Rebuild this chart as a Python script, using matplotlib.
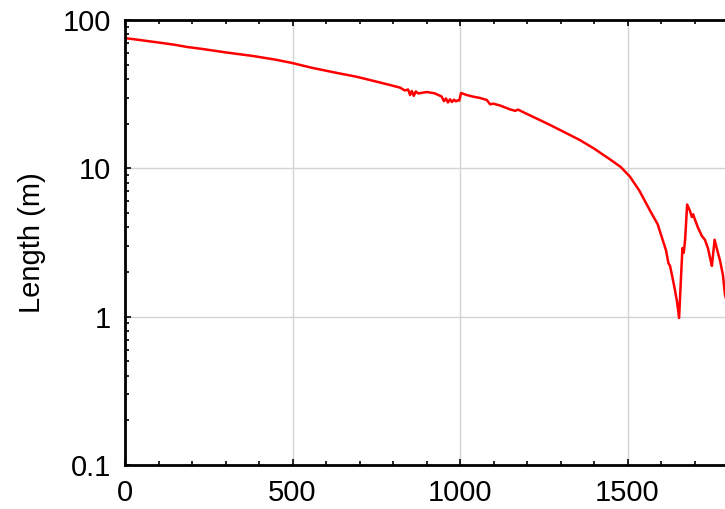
import matplotlib
matplotlib.use("Agg")
import matplotlib.pyplot as plt
from matplotlib.ticker import LogLocator, MultipleLocator, FixedLocator

plt.rcParams['font.family'] = ['Liberation Sans', 'DejaVu Sans']

# distance vs length
dist = [0, 30, 60, 100, 150, 185, 233, 300, 382, 450, 499, 560, 632, 690, 731,
        790, 821, 835, 845, 851, 856, 862, 868, 875, 901, 925, 945, 952, 958,
        964, 970, 976, 982, 988, 994, 998, 1003, 1020, 1040, 1060, 1080, 1090,
        1099, 1120, 1149, 1165, 1173, 1194, 1230, 1269, 1310, 1358, 1400,
        1450, 1480, 1507, 1535, 1567, 1590, 1603, 1615, 1622, 1627, 1635,
        1642, 1648, 1654, 1660, 1664, 1668, 1672, 1678, 1686, 1692, 1696,
        1700, 1710, 1722, 1731, 1740, 1748, 1752, 1756, 1760, 1768, 1776,
        1785, 1791, 1800]
length = [75.5, 74.0, 72.5, 70.5, 68.0, 65.8, 63.7, 60.5, 57.2, 54.0, 51.3,
          47.5, 44.0, 41.5, 39.4, 36.5, 35.0, 33.5, 34.0, 31.2, 33.2, 30.8,
          33.0, 32.0, 32.7, 32.0, 30.5, 28.4, 29.6, 27.8, 29.2, 28.0, 29.0,
          28.3, 28.8, 28.6, 32.2, 31.2, 30.4, 29.8, 28.9, 27.0, 27.3, 26.5,
          25.0, 24.4, 24.9, 23.6, 21.6, 19.6, 17.6, 15.5, 13.6, 11.4, 10.2,
          8.8, 7.1, 5.2, 4.2, 3.4, 2.8, 2.3, 2.2, 1.8, 1.5, 1.25, 0.98, 1.9,
          2.9, 2.7, 3.3, 5.7, 5.2, 4.7, 4.9, 4.6, 4.0, 3.5, 3.3, 2.9, 2.4,
          2.2, 2.7, 3.3, 2.8, 2.4, 1.9, 1.4, 1.2]
x_ticks = [0, 500, 1000, 1500]
y_ticks = [0.1, 1, 10, 100]
y_labels = ['0.1', '1', '10', '100']

fig = plt.figure(figsize=(7.25, 5.09), dpi=100)
# axes run past the right edge of the picture, as in the reference crop
ax = fig.add_axes([125 / 725, (509 - 465) / 509, 670 / 725, 445 / 509])

ax.plot(dist, length, color='red', lw=1.8)

ax.set_yscale('log')
ax.set_ylim(0.1, 100)
ax.set_xlim(0, 2000)

ax.xaxis.set_major_locator(FixedLocator(x_ticks))
ax.xaxis.set_minor_locator(MultipleLocator(100))
ax.yaxis.set_major_locator(FixedLocator(y_ticks))
ax.yaxis.set_minor_locator(LogLocator(base=10, subs=range(2, 10)))
ax.set_yticklabels(y_labels)
ax.yaxis.set_minor_formatter(plt.NullFormatter())

ax.grid(True, which='major', color='#d3d3d3', lw=1.0)
ax.set_axisbelow(True)

for s in ax.spines.values():
    s.set_linewidth(2.0)
    s.set_color('black')

ax.tick_params(which='both', direction='in', top=True, right=False,
               labelsize=21, width=1.2)
ax.tick_params(which='major', length=4, pad=10)
ax.tick_params(which='minor', length=3)

ax.set_ylabel('Length (m)', fontsize=21, labelpad=12)

fig.savefig('out.png', dpi=100)
